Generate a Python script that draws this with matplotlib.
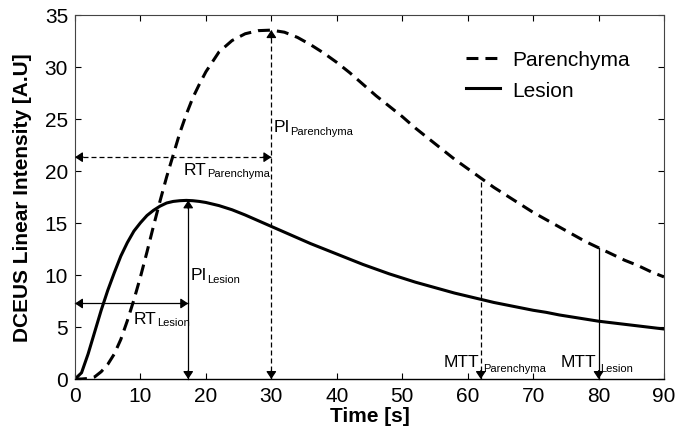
import matplotlib
matplotlib.use("Agg")
import matplotlib.pyplot as plt
import numpy as np

plt.rcParams['font.family'] = ['Liberation Sans', 'DejaVu Sans']

# ---- data ----
time_s = [0, 1, 2, 3, 4, 5, 6, 7, 8, 9, 10, 11, 12, 13, 14, 15, 16, 17, 18, 19, 20,
          22, 24, 26, 28, 30, 32, 34, 36, 38, 40, 42, 44, 46, 48, 50, 52, 54, 56, 58,
          60, 62, 64, 66, 68, 70, 72, 74, 76, 78, 80, 82, 84, 86, 88, 90]
lesion = [0, 0.6, 2.4, 4.5, 6.6, 8.5, 10.2, 11.8, 13.1, 14.2, 15.0, 15.7, 16.2, 16.6,
          16.9, 17.05, 17.12, 17.15, 17.12, 17.05, 16.95,
          16.65, 16.25, 15.75, 15.2, 14.65, 14.1, 13.55, 13.0, 12.5, 12.0, 11.5, 11.0,
          10.55, 10.1, 9.7, 9.3, 8.95, 8.6, 8.25, 7.95, 7.65, 7.35, 7.1, 6.85, 6.6,
          6.4, 6.15, 5.95, 5.75, 5.55, 5.4, 5.25, 5.1, 4.95, 4.8]
parenchyma = [0, 0, 0.05, 0.2, 0.7, 1.4, 2.4, 3.8, 5.6, 7.6, 9.8, 12.2, 14.7, 17.1,
              19.4, 21.5, 23.6, 25.4, 27.0, 28.3, 29.5,
              31.4, 32.5, 33.15, 33.45, 33.5, 33.3, 32.8, 32.1, 31.3, 30.4, 29.4, 28.3,
              27.2, 26.2, 25.2, 24.1, 23.1, 22.1, 21.1, 20.2, 19.3, 18.4, 17.6, 16.8,
              16.0, 15.3, 14.6, 13.9, 13.2, 12.6, 12.0, 11.4, 10.9, 10.3, 9.8]

x_ticks = [0, 10, 20, 30, 40, 50, 60, 70, 80, 90]
y_ticks = [0, 5, 10, 15, 20, 25, 30, 35]

# annotation values
t_peak_lesion, pi_lesion = 17.3, 17.15
t_peak_par, pi_par = 30.0, 33.5
rt_les_level, rt_par_level = 7.25, 21.3
mtt_par, mtt_par_level = 62.0, 19.3
mtt_les, mtt_les_level = 80.0, 12.6

fig = plt.figure(figsize=(6.75, 4.31), dpi=100)
ax = fig.add_axes([75/675, (431-380)/431, 589/675, 364.5/431])

ax.plot(time_s, parenchyma, color='black', lw=2.2, linestyle=(0, (3.9, 2.3)),
        label='Parenchyma', solid_capstyle='butt', dash_capstyle='butt')
ax.plot(time_s, lesion, color='black', lw=2.2, label='Lesion')

ax.set_xlim(0, 90)
ax.set_ylim(0, 35)
ax.set_xticks(x_ticks)
ax.set_yticks(y_ticks)
ax.tick_params(direction='in', top=True, right=True, length=4, width=0.8,
               labelsize=15, pad=5, colors='black')
for s in ['left', 'top', 'right']:
    ax.spines[s].set_color('#444444')
    ax.spines[s].set_linewidth(0.8)
ax.spines['bottom'].set_color('black')
ax.spines['bottom'].set_linewidth(1.0)

ax.set_xlabel('Time [s]', fontsize=15, fontweight='bold', labelpad=1)
ax.set_ylabel('DCEUS Linear Intensity [A.U]', fontsize=15, fontweight='bold', labelpad=9)

DASH = (0, (4, 2.4))
THIN = 0.9
HEAD = '-|>,head_length=0.45,head_width=0.3'


def head(x, y, dx, dy):
    ax.annotate('', xy=(x, y), xytext=(dx, dy), textcoords='offset points',
                arrowprops=dict(arrowstyle=HEAD, color='black', lw=THIN,
                                shrinkA=0, shrinkB=0), annotation_clip=False)


def seg(x0, y0, x1, y1, dashed):
    ax.plot([x0, x1], [y0, y1], color='black', lw=THIN,
            linestyle=DASH if dashed else '-', clip_on=False)


# RT parenchyma (dashed horizontal, double headed)
seg(0, rt_par_level, t_peak_par, rt_par_level, True)
head(0, rt_par_level, 6, 0)
head(t_peak_par, rt_par_level, -6, 0)
# PI parenchyma (dashed vertical, double headed)
seg(t_peak_par, 0, t_peak_par, pi_par, True)
head(t_peak_par, pi_par, 0, -6)
head(t_peak_par, 0, 0, 6)
# RT lesion
seg(0, rt_les_level, t_peak_lesion, rt_les_level, False)
head(0, rt_les_level, 6, 0)
head(t_peak_lesion, rt_les_level, -6, 0)
# PI lesion
seg(t_peak_lesion, 0, t_peak_lesion, pi_lesion, False)
head(t_peak_lesion, pi_lesion, 0, -6)
head(t_peak_lesion, 0, 0, 6)
# MTT parenchyma
seg(mtt_par, 0, mtt_par, mtt_par_level, True)
head(mtt_par, 0, 0, 6)
# MTT lesion
seg(mtt_les, 0, mtt_les, mtt_les_level, False)
head(mtt_les, 0, 0, 6)


def label(x, y, main, sub, gap=0.5, drop=0.3):
    t = ax.text(x, y, main, fontsize=12.5, va='baseline', ha='left')
    ax.annotate(sub, xy=(1, 0), xycoords=t, xytext=(gap, drop),
                textcoords='offset points', fontsize=8, va='baseline', ha='left')


label(16.6, 19.7, 'RT', 'Parenchyma')
label(30.3, 23.8, 'PI', 'Parenchyma')
label(17.6, 9.6, 'PI', 'Lesion')
label(8.9, 5.4, 'RT', 'Lesion')
# MTT labels straddle the vertical lines
ax.text(61.7, 1.27, 'MTT', fontsize=12.5, va='baseline', ha='right')
ax.text(62.4, 0.75, 'Parenchyma', fontsize=8, va='baseline', ha='left')
ax.text(79.6, 1.27, 'MTT', fontsize=12.5, va='baseline', ha='right')
ax.text(80.3, 0.75, 'Lesion', fontsize=8, va='baseline', ha='left')

leg = ax.legend(loc='upper left', bbox_to_anchor=(0.664, 0.902), frameon=False,
                fontsize=15, handlelength=1.65, handletextpad=0.55,
                labelspacing=0.55, borderpad=0, borderaxespad=0)

fig.savefig('out.png', dpi=100)
